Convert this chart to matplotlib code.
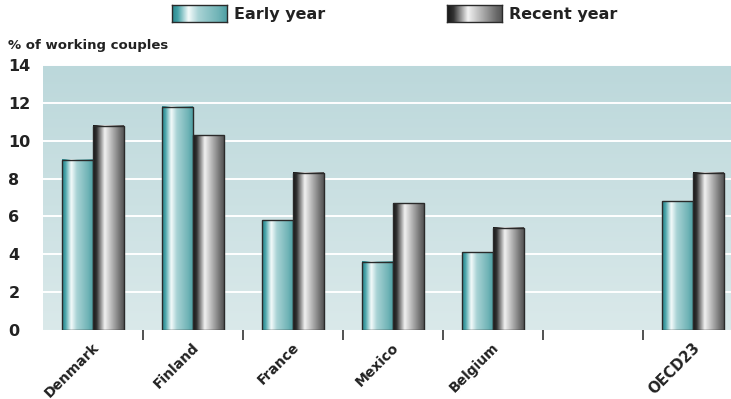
import numpy as np
import matplotlib.pyplot as plt
import matplotlib.transforms as mtransforms
from matplotlib.colors import LinearSegmentedColormap
from matplotlib.patches import Rectangle

# data
countries = ["Denmark", "Finland", "France", "Mexico", "Belgium", "", "OECD23"]
early_year = [9.0, 11.8, 5.8, 3.6, 4.1, None, 6.8]
recent_year = [10.8, 10.3, 8.3, 6.7, 5.4, None, 8.3]
yticks = [0, 2, 4, 6, 8, 10, 12, 14]

plt.rcParams['font.family'] = ['DejaVu Sans']
text_color = "#222222"

teal_cmap = LinearSegmentedColormap.from_list(
    "teal", [(0, "#2a868d"), (0.1, "#42a0a5"), (0.3, "#f4fbfb"),
             (0.48, "#a9d3d5"), (0.85, "#6fb3b6"), (1, "#4e9fa3")])
gray_cmap = LinearSegmentedColormap.from_list(
    "gray", [(0, "#141414"), (0.12, "#333333"), (0.38, "#f2f2f2"),
             (0.6, "#b8b8b8"), (0.9, "#6a6a6a"), (1, "#555555")])

fig = plt.figure(figsize=(7.31, 3.99), dpi=100)
ax = fig.add_axes([43 / 731, 69 / 399, 1 - 43 / 731, 265 / 399])

xmin, xmax = -0.5, 6.38

# background gradient
bg = LinearSegmentedColormap.from_list("bg", ["#dae9ea", "#bcd8db"])
ax.imshow(np.linspace(0, 1, 200).reshape(-1, 1), cmap=bg, aspect="auto",
          extent=[xmin, xmax, 0, 14], origin="lower", zorder=0)

for y in yticks[1:]:
    ax.axhline(y, color="white", lw=1.4, zorder=1)

grad = np.linspace(0, 1, 256).reshape(1, -1)
w = 0.31


def gradient_bar(x0, h, cmap):
    ax.imshow(grad, cmap=cmap, aspect="auto", extent=[x0, x0 + w, 0, h],
              zorder=2, interpolation="bilinear")
    ax.add_patch(Rectangle((x0, 0), w, h, fill=False, ec="#2a2a2a",
                           lw=1.0, zorder=3))


for i, (e, r) in enumerate(zip(early_year, recent_year)):
    if e is None:
        continue
    gradient_bar(i - w, e, teal_cmap)
    gradient_bar(i, r, gray_cmap)

ax.set_xlim(xmin, xmax)
ax.set_ylim(0, 14)

for s in ax.spines.values():
    s.set_visible(False)

# y tick labels sit left-aligned at the figure edge
ax.set_yticks(yticks)
ax.set_yticklabels([str(t) for t in yticks], fontsize=11.5, fontweight="bold",
                   color=text_color, ha="left")
ax.tick_params(axis="y", length=0, pad=25)

# separators between categories
ax.set_xticks(np.arange(0.5, 6, 1), minor=True)
ax.tick_params(axis="x", which="minor", length=7, width=1.2, color="#333333",
               direction="out")
ax.set_xticks(range(len(countries)))
ax.set_xticklabels(countries, rotation=45, ha="right", va="center",
                   rotation_mode="anchor", fontsize=10, fontweight="bold",
                   color=text_color)
ax.tick_params(axis="x", which="major", length=0, pad=11)
shift = mtransforms.ScaledTranslation(4 / 100, 0, fig.dpi_scale_trans)
for lbl in ax.get_xticklabels():
    lbl.set_transform(lbl.get_transform() + shift)
    if lbl.get_text() == "OECD23":
        lbl.set_fontsize(10.5)
        lbl.set_fontweight("heavy")

fig.text(8 / 731, 1 - 45 / 399, "% of working couples", fontsize=9.5,
         fontweight="bold", color=text_color, va="center")

# legend
legend_items = [("Early year", teal_cmap, 172), ("Recent year", gray_cmap, 447)]
for label, cmap, x in legend_items:
    lax = fig.add_axes([x / 731, 1 - 22 / 399, 55 / 731, 17 / 399])
    lax.imshow(grad, cmap=cmap, aspect="auto", interpolation="bilinear")
    lax.set_xticks([])
    lax.set_yticks([])
    for s in lax.spines.values():
        s.set_color("#2a2a2a")
        s.set_linewidth(1.0)
    fig.text((x + 62) / 731, 1 - 14 / 399, label, fontsize=11.5,
             fontweight="bold", color=text_color, va="center")

fig.savefig("out.png", dpi=100)
